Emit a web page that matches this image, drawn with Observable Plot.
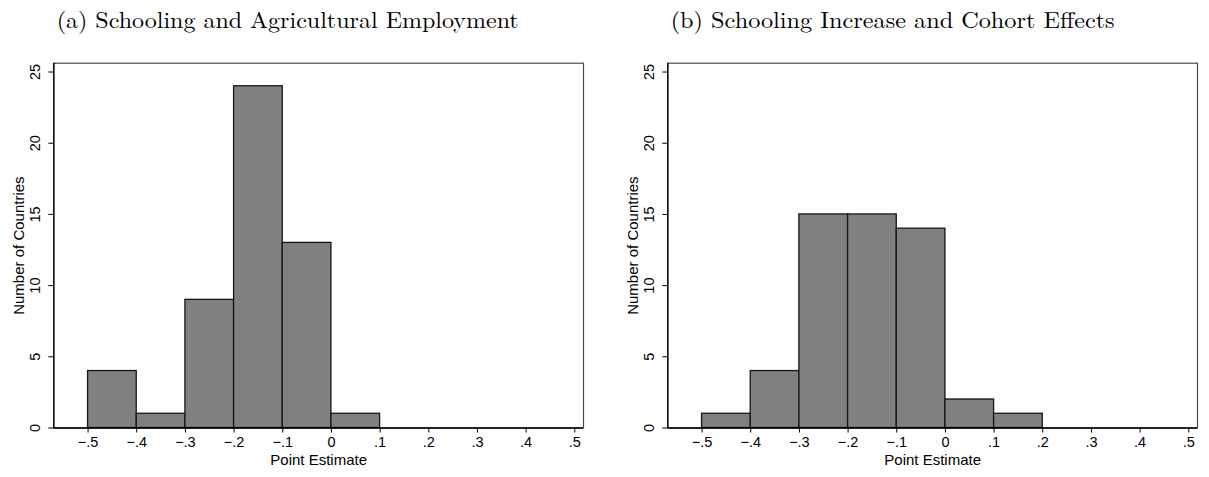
<!DOCTYPE html>
<html>
<head>
<meta charset="utf-8">
<script src="https://cdn.jsdelivr.net/npm/d3@7"></script>
<script src="https://cdn.jsdelivr.net/npm/@observablehq/plot@0.6"></script>
<style>
  html, body { margin: 0; padding: 0; background: #fff; width: 1209px; height: 477px; overflow: hidden; }
  .panel { position: absolute; top: 0; width: 594px; height: 477px; }
  .panel svg.title { position: absolute; left: 0; top: 0; }
  .panel .plot { position: absolute; left: 0; top: 40px; }
</style>
</head>
<body>
<div id="panelA" class="panel" style="left:0px"></div>
<div id="panelB" class="panel" style="left:614.4px"></div>
<script>
// Histogram bin edges (point estimate) and country counts per bin
const binEdges = [-0.5, -0.4, -0.3, -0.2, -0.1, 0, 0.1, 0.2];
const countsA = [4, 1, 9, 24, 13, 1];
const countsB = [1, 4, 15, 15, 14, 2, 1];

// Axis ticks and their labels
const xTicks = [-0.5, -0.4, -0.3, -0.2, -0.1, 0, 0.1, 0.2, 0.3, 0.4, 0.5];
const xTickLabels = ["\u2212.5", "\u2212.4", "\u2212.3", "\u2212.2", "\u2212.1", "0", ".1", ".2", ".3", ".4", ".5"];
const yTicks = [0, 5, 10, 15, 20, 25];
const yTickLabels = ["0", "5", "10", "15", "20", "25"];

const titleA = "(a) Schooling and Agricultural Employment";
const titleB = "(b) Schooling Increase and Cohort Effects";
const xLabel = "Point Estimate";
const yLabel = "Number of Countries";

const sans = "'Liberation Sans', Arial, Helvetica, sans-serif";

function drawPanel(el, title, titleWidth, counts) {
  const rows = counts.map((n, i) => ({x1: binEdges[i], x2: binEdges[i + 1], n}));
  const xDomain = [-0.5704, 0.5179];

  // panel heading
  const t = d3.select(el).append("svg").attr("class", "title")
    .attr("width", 594).attr("height", 40);
  t.append("text")
    .attr("x", 56.7).attr("y", 28)
    .attr("font-family", "'Latin Modern Roman', 'CMU Serif', 'Liberation Serif', 'Times New Roman', serif")
    .attr("font-size", 23)
    .attr("fill", "#000")
    .attr("textLength", titleWidth)
    .attr("lengthAdjust", "spacingAndGlyphs")
    .text(title);

  const chart = Plot.plot({
    width: 594,
    height: 437,
    marginLeft: 53.3,
    marginRight: 11,
    marginTop: 22.7,
    marginBottom: 49.5,
    style: {fontFamily: sans, fontSize: "14.5px", color: "#000", background: "#fff"},
    x: {domain: xDomain},
    y: {domain: [0, 25.62]},
    marks: [
      Plot.frame({stroke: "#4a4a4a", strokeWidth: 1.2}),
      Plot.rectY(rows, {x1: "x1", x2: "x2", y: "n", fill: "#808080", stroke: "#161616", strokeWidth: 1.3}),
      Plot.ruleY([0], {stroke: "#000", strokeWidth: 1.3}),
      Plot.ruleX([xDomain[0]], {stroke: "#000", strokeWidth: 1.3}),
      Plot.axisX({
        ticks: xTicks, tickSize: 5, tickPadding: 3.5,
        tickFormat: (d) => xTickLabels[xTicks.indexOf(d)] ?? "",
        fontSize: 14.5, label: null, stroke: "#000"
      }),
      Plot.axisY({ticks: yTicks, tickSize: 5, tickFormat: () => "", label: null}),
      Plot.text(yTicks, {
        y: (d) => d, frameAnchor: "left", dx: -18.3, rotate: -90,
        textAnchor: "middle", lineAnchor: "middle",
        text: (d, i) => yTickLabels[i], fontSize: 14.5, fill: "#000"
      }),
      Plot.text([xLabel], {
        frameAnchor: "bottom", dy: 32, textAnchor: "middle", lineAnchor: "middle",
        text: (d) => d, fontSize: 15, fill: "#000"
      }),
      Plot.text([yLabel], {
        frameAnchor: "left", dx: -35, rotate: -90, textAnchor: "middle", lineAnchor: "middle",
        text: (d) => d, fontSize: 15, fill: "#000"
      })
    ]
  });
  chart.classList.add("plot");
  el.appendChild(chart);
}

drawPanel(document.getElementById("panelA"), titleA, 462, countsA);
drawPanel(document.getElementById("panelB"), titleB, 444, countsB);
</script>
</body>
</html>
